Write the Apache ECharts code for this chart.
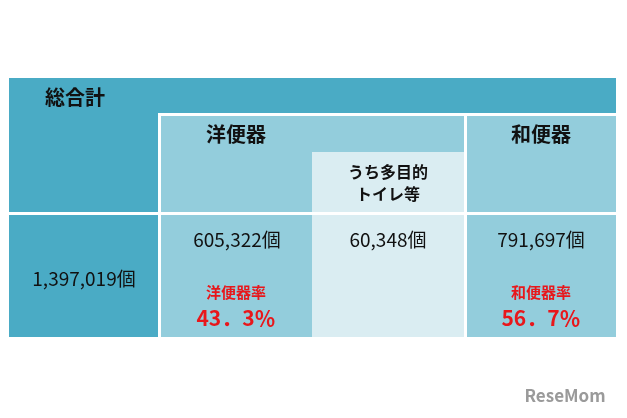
<!DOCTYPE html>
<html><head><meta charset="utf-8">
<script src="https://cdn.jsdelivr.net/npm/echarts@6/dist/echarts.min.js"></script>
<style>html,body{margin:0;padding:0;background:#fff}#c{width:627px;height:418px}</style>
</head><body><div id="c"></div>
<script>
const headers = ['総合計', '洋便器', '和便器'];
const subHeader = ['うち多目的', 'トイレ等'];
const counts = ['1,397,019個', '605,322個', '60,348個', '791,697個'];
const rateLabels = ['洋便器率', '和便器率'];
const rates = ['43．3％', '56．7％'];

const DARK = '#4aabc5', LIGHT = '#93cddc', PALE = '#daedf2';
const F = '"Noto Sans CJK JP", sans-serif';
const FN = '"Liberation Sans Narrow", "Noto Sans CJK JP", sans-serif';
function rect(x, y, w, h, c) { return {type:'rect', shape:{x, y, width:w, height:h}, style:{fill:c}, silent:true}; }
function txt(s, x, y, size, color, weight, fam) {
  return {type:'text', x, y, style:{text:s, x:0, y:0, fill:color, font: `${weight||'normal'} ${size}px ${fam||F}`, align:'center', verticalAlign:'middle'}, silent:true};
}
const els = [
  rect(9, 78, 607, 35, DARK),
  rect(9, 78, 149, 134, DARK),
  rect(161, 116, 303, 96, LIGHT),
  rect(312, 152, 152, 60, PALE),
  rect(467, 116, 149, 96, LIGHT),
  rect(9, 215, 149, 122, DARK),
  rect(161, 215, 151, 122, LIGHT),
  rect(312, 215, 152, 122, PALE),
  rect(467, 215, 149, 122, LIGHT),
  txt(headers[0], 75, 97, 20, '#111', 'bold'),
  txt(headers[1], 236, 134, 20, '#111', 'bold'),
  txt(headers[2], 541, 134, 20, '#111', 'bold'),
  txt(subHeader[0], 388, 172, 16, '#111', 'bold'),
  txt(subHeader[1], 388, 194, 16, '#111', 'bold'),
  txt(counts[0], 84, 279, 19, '#111', 'normal', FN),
  txt(counts[1], 237, 240, 19, '#111', 'normal', FN),
  txt(counts[2], 388, 240, 19, '#111', 'normal', FN),
  txt(counts[3], 541, 240, 19, '#111', 'normal', FN),
  txt(rateLabels[0], 236, 292, 15, '#e8171b', 'bold'),
  txt(rateLabels[1], 541, 292, 15, '#e8171b', 'bold'),
  txt(rates[0], 236, 318, 21, '#e8171b', 'bold'),
  txt(rates[1], 541, 318, 21, '#e8171b', 'bold'),
  txt('ReseMom', 565, 396, 17, '#9a9a9a', 'bold')
];
const chart = echarts.init(document.getElementById('c'));
chart.setOption({animation:false, graphic: els});
</script></body></html>
